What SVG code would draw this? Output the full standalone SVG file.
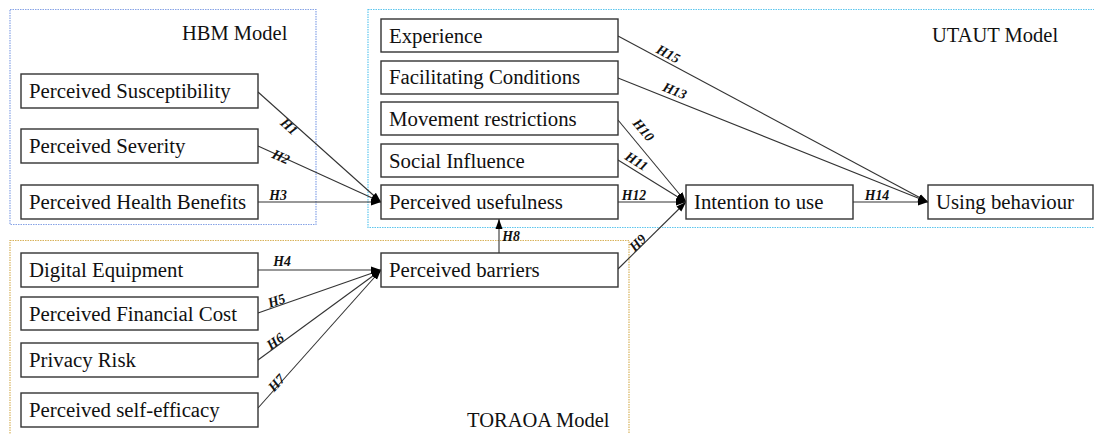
<svg xmlns="http://www.w3.org/2000/svg" width="1094" height="434" viewBox="0 0 1094 434">
  <style>
    .frame { fill: none; stroke-width: 1.2; stroke-dasharray: 1.5 1; }
    .hbm { stroke: #86a3e6; }
    .utaut { stroke: #5cc6ee; }
    .toraoa { stroke: #d8b25a; }
    .title { font-family: "Liberation Serif", "Times New Roman", serif; font-size: 20.5px; fill: #111; }
    .node rect { fill: #fff; stroke: #333; stroke-width: 1.4; }
    .node text { font-family: "Liberation Serif", "Times New Roman", serif; font-size: 20.8px; fill: #111; }
    .edge { stroke: #333; stroke-width: 1.1; fill: none; marker-end: url(#arrow); }
    .hl { font-family: "Liberation Serif", "Times New Roman", serif; font-size: 13.8px; font-style: italic; font-weight: bold; fill: #111; text-anchor: middle; }
  </style>
  <defs>
    <marker id="arrow" markerUnits="userSpaceOnUse" markerWidth="10" markerHeight="10" viewBox="0 0 10 10" refX="10" refY="5" orient="auto">
      <path d="M0,1.5 L10,5 L0,8.5 Z" fill="#000"/>
    </marker>
  </defs>

  <rect width="1094" height="434" fill="#fff"/>

  <!-- model frames -->
  <g id="frames">
    <rect class="frame hbm" x="10" y="9.5" width="306" height="215"/>
    <rect class="frame utaut" x="368" y="9.5" width="740" height="218"/>
    <rect class="frame toraoa" x="10" y="240.5" width="619" height="210"/>
    <text class="title" x="182" y="40">HBM Model</text>
    <text class="title" x="932" y="42">UTAUT Model</text>
    <text class="title" x="467" y="427">TORAOA Model</text>
  </g>

  <!-- connectors -->
  <g id="connectors">
    <line class="edge" x1="258" y1="92" x2="381" y2="202"/>
    <line class="edge" x1="258" y1="146" x2="381" y2="202"/>
    <line class="edge" x1="258" y1="202" x2="381" y2="202"/>
    <line class="edge" x1="258" y1="270" x2="381" y2="270"/>
    <line class="edge" x1="258" y1="313" x2="381" y2="270"/>
    <line class="edge" x1="258" y1="360" x2="381" y2="270"/>
    <line class="edge" x1="258" y1="408" x2="381" y2="270"/>
    <line class="edge" x1="499" y1="253" x2="499" y2="219"/>
    <line class="edge" x1="618" y1="269" x2="686" y2="202"/>
    <line class="edge" x1="618" y1="120" x2="686" y2="202"/>
    <line class="edge" x1="618" y1="160" x2="686" y2="202"/>
    <line class="edge" x1="618" y1="202" x2="686" y2="202"/>
    <line class="edge" x1="618" y1="78" x2="928" y2="202"/>
    <line class="edge" x1="853" y1="202" x2="928" y2="202"/>
    <line class="edge" x1="618" y1="36" x2="928" y2="202"/>

    <text class="hl" transform="translate(286,130) rotate(42)">H1</text>
    <text class="hl" transform="translate(279,161) rotate(24)">H2</text>
    <text class="hl" x="278" y="200">H3</text>
    <text class="hl" x="282" y="266">H4</text>
    <text class="hl" transform="translate(278,305) rotate(-19)">H5</text>
    <text class="hl" transform="translate(278,345) rotate(-36)">H6</text>
    <text class="hl" transform="translate(280,386) rotate(-48)">H7</text>
    <text class="hl" x="511" y="241">H8</text>
    <text class="hl" transform="translate(641,246) rotate(-45)">H9</text>
    <text class="hl" transform="translate(640,133) rotate(50)">H10</text>
    <text class="hl" transform="translate(634,165) rotate(32)">H11</text>
    <text class="hl" x="634" y="200">H12</text>
    <text class="hl" transform="translate(673,95) rotate(22)">H13</text>
    <text class="hl" x="877" y="200">H14</text>
    <text class="hl" transform="translate(666,58) rotate(28)">H15</text>
  </g>

  <!-- HBM constructs -->
  <g id="n-susceptibility" class="node"><rect x="21" y="74" width="237" height="34"/><text x="29" y="98">Perceived Susceptibility</text></g>
  <g id="n-severity" class="node"><rect x="21" y="129" width="237" height="34"/><text x="29" y="153">Perceived Severity</text></g>
  <g id="n-health-benefits" class="node"><rect x="21" y="185" width="237" height="34"/><text x="29" y="209">Perceived Health Benefits</text></g>

  <!-- UTAUT constructs -->
  <g id="n-experience" class="node"><rect x="381" y="19" width="237" height="33"/><text x="389" y="43">Experience</text></g>
  <g id="n-facilitating" class="node"><rect x="381" y="61" width="237" height="33"/><text x="389" y="84">Facilitating Conditions</text></g>
  <g id="n-movement" class="node"><rect x="381" y="102" width="237" height="33"/><text x="389" y="126">Movement restrictions</text></g>
  <g id="n-social" class="node"><rect x="381" y="144" width="237" height="33"/><text x="389" y="168">Social Influence</text></g>
  <g id="n-usefulness" class="node"><rect x="381" y="185" width="237" height="34"/><text x="389" y="209">Perceived usefulness</text></g>
  <g id="n-intention" class="node"><rect x="686" y="185" width="167" height="34"/><text x="694" y="209">Intention to use</text></g>
  <g id="n-using" class="node"><rect x="928" y="185" width="165" height="34"/><text x="936" y="209">Using behaviour</text></g>

  <!-- TORAOA constructs -->
  <g id="n-digital" class="node"><rect x="21" y="253" width="237" height="34"/><text x="29" y="277">Digital Equipment</text></g>
  <g id="n-financial" class="node"><rect x="21" y="297" width="237" height="33"/><text x="29" y="321">Perceived Financial Cost</text></g>
  <g id="n-privacy" class="node"><rect x="21" y="343" width="237" height="34"/><text x="29" y="367">Privacy Risk</text></g>
  <g id="n-self-efficacy" class="node"><rect x="21" y="393" width="237" height="34"/><text x="29" y="417">Perceived self-efficacy</text></g>
  <g id="n-barriers" class="node"><rect x="381" y="253" width="237" height="34"/><text x="389" y="277">Perceived barriers</text></g>
</svg>
